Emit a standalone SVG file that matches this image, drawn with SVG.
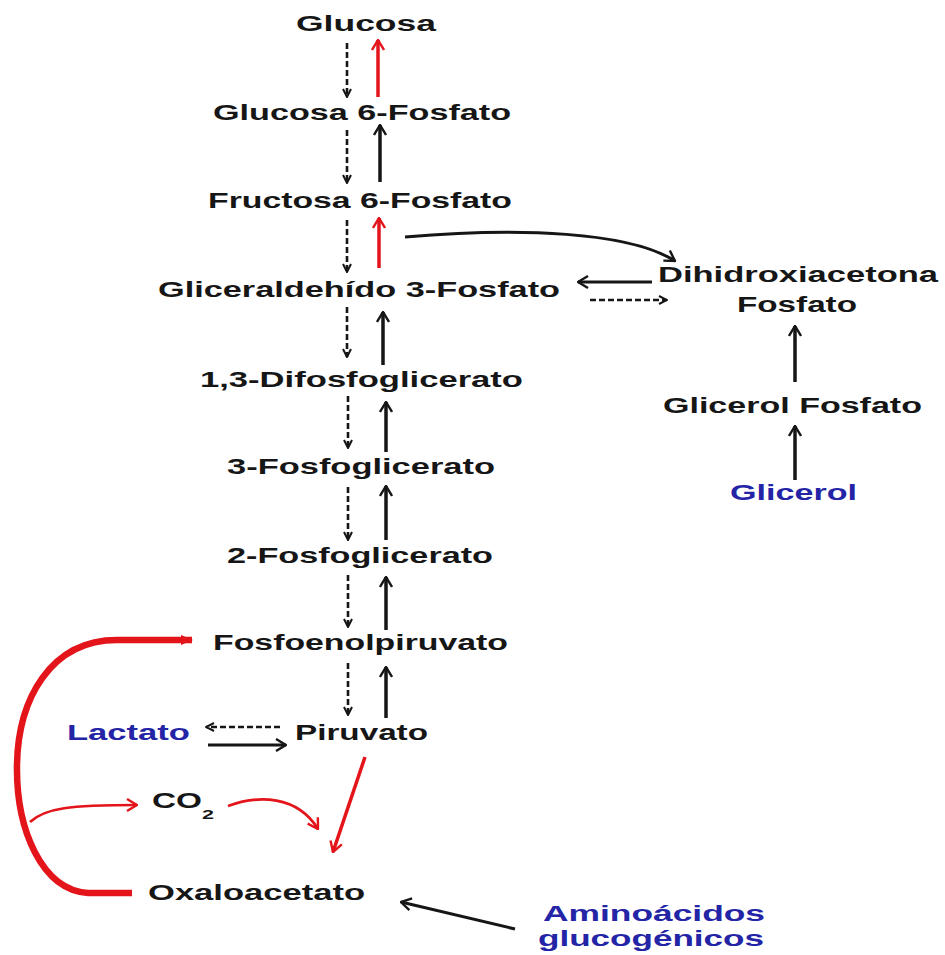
<svg xmlns="http://www.w3.org/2000/svg" width="945" height="955" viewBox="0 0 945 955">
<defs>
<style>
text{font-family:"Liberation Sans",Arial,sans-serif;font-weight:bold;font-size:22px;fill:#161616}
.blue{fill:#2424a6}
.sub{font-size:13px}
.dash{fill:none;stroke:#161616;stroke-width:2.6;stroke-dasharray:6 3;marker-end:url(#hs)}
.solid{fill:none;stroke:#161616;stroke-width:3.5;marker-end:url(#hb)}
.thin{fill:none;stroke:#161616;stroke-width:3;marker-end:url(#hb)}
.red{fill:none;stroke:#e3151b;stroke-width:3.5;marker-end:url(#hr)}
.redthin{fill:none;stroke:#e3151b;stroke-width:2.6;marker-end:url(#hr)}
.redbig{fill:none;stroke:#e3151b;stroke-width:6.5;marker-end:url(#hrf)}
</style>
<marker id="hb" viewBox="0 0 12 14" refX="11" refY="7" markerWidth="12" markerHeight="14" markerUnits="userSpaceOnUse" orient="auto">
<path d="M1,1 L11,7 L1,13" fill="none" stroke="#161616" stroke-width="2.4"/>
</marker>
<marker id="hs" viewBox="0 0 10 10" refX="9" refY="5" markerWidth="10" markerHeight="10" markerUnits="userSpaceOnUse" orient="auto">
<path d="M1,1 L9,5 L1,9" fill="none" stroke="#161616" stroke-width="2"/>
</marker>
<marker id="hr" viewBox="0 0 12 14" refX="11" refY="7" markerWidth="12" markerHeight="14" markerUnits="userSpaceOnUse" orient="auto">
<path d="M1,1 L11,7 L1,13" fill="none" stroke="#e3151b" stroke-width="2.4"/>
</marker>
<marker id="hrf" viewBox="0 0 12 12" refX="11" refY="6" markerWidth="12" markerHeight="12" markerUnits="userSpaceOnUse" orient="auto">
<path d="M0,1 L12,6 L0,11 Z" fill="#e3151b"/>
</marker>
</defs>
<rect width="945" height="955" fill="#ffffff"/>

<g id="glucosa"><text x="296" y="31" textLength="140" lengthAdjust="spacingAndGlyphs">Glucosa</text></g>
<g id="g6p"><text x="213" y="120" textLength="298" lengthAdjust="spacingAndGlyphs">Glucosa 6-Fosfato</text></g>
<g id="f6p"><text x="208" y="208" textLength="304" lengthAdjust="spacingAndGlyphs">Fructosa 6-Fosfato</text></g>
<g id="gap"><text x="158" y="297" textLength="402" lengthAdjust="spacingAndGlyphs">Gliceraldehído 3-Fosfato</text></g>
<g id="dhap"><text x="658" y="282" textLength="280" lengthAdjust="spacingAndGlyphs">Dihidroxiacetona</text><text x="737" y="312" textLength="120" lengthAdjust="spacingAndGlyphs">Fosfato</text></g>
<g id="glicerolfosfato"><text x="663" y="413" textLength="259" lengthAdjust="spacingAndGlyphs">Glicerol Fosfato</text></g>
<g id="glicerol"><text class="blue" x="730" y="500" textLength="127" lengthAdjust="spacingAndGlyphs">Glicerol</text></g>
<g id="bpg"><text x="200" y="387" textLength="323" lengthAdjust="spacingAndGlyphs">1,3-Difosfoglicerato</text></g>
<g id="pg3"><text x="227" y="474" textLength="268" lengthAdjust="spacingAndGlyphs">3-Fosfoglicerato</text></g>
<g id="pg2"><text x="227" y="563" textLength="266" lengthAdjust="spacingAndGlyphs">2-Fosfoglicerato</text></g>
<g id="pep"><text x="213" y="650" textLength="295" lengthAdjust="spacingAndGlyphs">Fosfoenolpiruvato</text></g>
<g id="piruvato"><text x="295" y="740" textLength="133" lengthAdjust="spacingAndGlyphs">Piruvato</text></g>
<g id="lactato"><text class="blue" x="67" y="740" textLength="123" lengthAdjust="spacingAndGlyphs">Lactato</text></g>
<g id="co2"><text x="152" y="808" textLength="50" lengthAdjust="spacingAndGlyphs">CO</text><text class="sub" x="202" y="819" textLength="12" lengthAdjust="spacingAndGlyphs">2</text></g>
<g id="oxaloacetato"><text x="148" y="900" textLength="217" lengthAdjust="spacingAndGlyphs">Oxaloacetato</text></g>
<g id="aminoacidos"><text class="blue" x="543" y="921" textLength="222" lengthAdjust="spacingAndGlyphs">Aminoácidos</text><text class="blue" x="538" y="946" textLength="226" lengthAdjust="spacingAndGlyphs">glucogénicos</text></g>

<g id="connectors">
<path class="dash" d="M347,43 V97"/>
<path class="red" d="M378,97 V40"/>
<path class="dash" d="M347,130 V183"/>
<path class="solid" d="M380,182 V125"/>
<path class="dash" d="M347,220 V272"/>
<path class="red" d="M379,268 V218"/>
<path class="dash" d="M347,307 V357"/>
<path class="solid" d="M383,365 V312"/>
<path class="dash" d="M348,396 V448"/>
<path class="solid" d="M386,452 V402"/>
<path class="dash" d="M348,487 V540"/>
<path class="solid" d="M386,540 V486"/>
<path class="dash" d="M348,575 V627"/>
<path class="solid" d="M386,630 V577"/>
<path class="dash" d="M348,663 V715"/>
<path class="solid" d="M386,718 V667"/>
<path class="thin" d="M405,237 C520,227 630,232 675,261"/>
<path class="thin" d="M652,282 H578"/>
<path class="dash" d="M590,300 H667"/>
<path class="solid" d="M795,382 V326"/>
<path class="solid" d="M795,480 V426"/>
<path class="dash" d="M280,727 H206"/>
<path class="thin" d="M208,745 H286"/>
<path class="thin" d="M515,929 L401,902"/>
<path class="redbig" d="M132,893 H88 C42,890 16,830 17,765 C18,700 50,640 117,640 H192"/>
<path class="redthin" d="M30,822 C45,808 70,805 137,805"/>
<path class="redthin" d="M228,806 C258,795 297,795 318,829"/>
<path class="red" d="M365,757 L333,852"/>
</g>
</svg>
